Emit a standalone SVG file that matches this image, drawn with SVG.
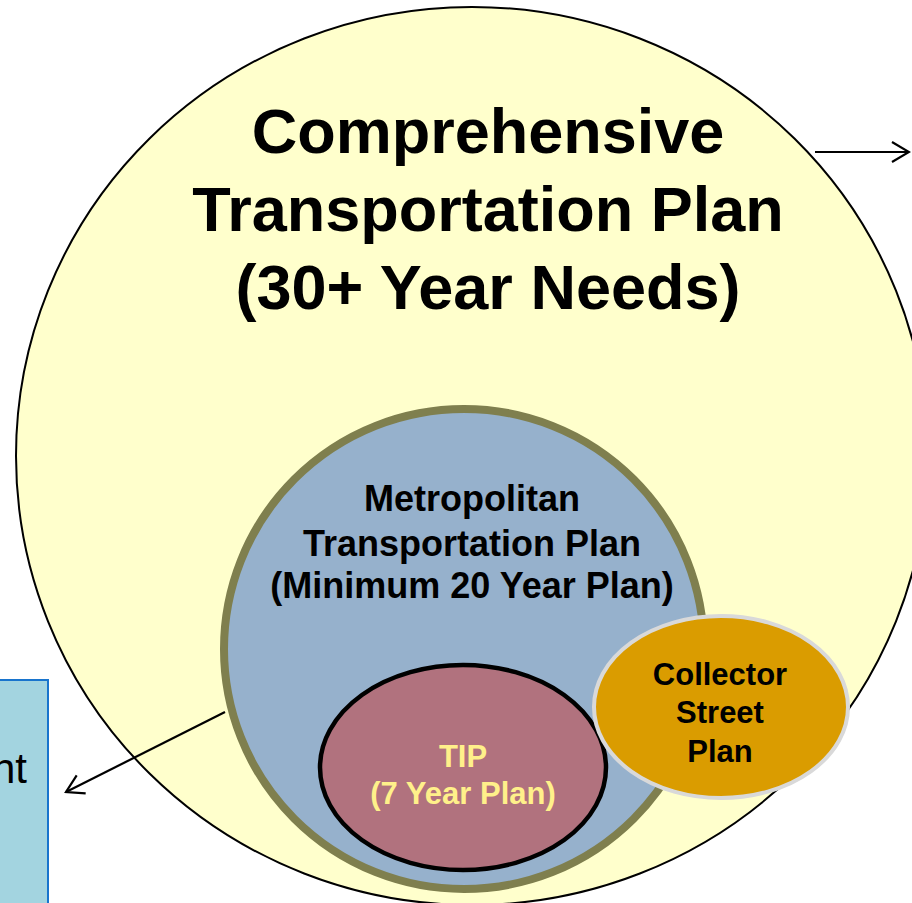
<svg xmlns="http://www.w3.org/2000/svg" width="912" height="903" viewBox="0 0 912 903">
<style>
.t{font-family:"Liberation Sans",Arial,sans-serif;font-weight:bold;text-anchor:middle;fill:#000}
.conn{fill:none;stroke:#000;stroke-width:2.2}
</style>
<defs>
<marker id="ah" markerUnits="userSpaceOnUse" viewBox="-20 -12 22 24" refX="0" refY="0" markerWidth="22" markerHeight="24" orient="auto">
<path d="M-17,-10 L0,0 L-17,10" fill="none" stroke="#000" stroke-width="2.2"/>
</marker>
</defs>
<rect width="912" height="903" fill="#fff"/>
<g id="box">
<rect x="-5" y="680" width="53" height="240" fill="#A3D4E0" stroke="#1874CD" stroke-width="2"/>
<text x="27" y="783" style="font-family:'Liberation Sans',Arial,sans-serif;font-size:42px;text-anchor:end;fill:#000">nt</text>
</g>
<g id="ctp">
<ellipse cx="472" cy="456" rx="456" ry="449" fill="#FFFFCC" stroke="#000" stroke-width="2"/>
<text class="t" x="488" y="153" font-size="63">Comprehensive</text>
<text class="t" x="488" y="231" font-size="63">Transportation Plan</text>
<text class="t" x="488" y="309" font-size="63">(30+ Year Needs)</text>
</g>
<g id="mtp">
<circle cx="464" cy="649" r="240" fill="#96B1CC" stroke="#7F7F4E" stroke-width="8"/>
<text class="t" x="472" y="511" font-size="36">Metropolitan</text>
<text class="t" x="472" y="556" font-size="36">Transportation Plan</text>
<text class="t" x="472" y="598" font-size="36">(Minimum 20 Year Plan)</text>
</g>
<g id="connectors">
<line class="conn" x1="815" y1="152" x2="909" y2="152" marker-end="url(#ah)"/>
<line class="conn" x1="225" y1="712" x2="66" y2="792" marker-end="url(#ah)"/>
</g>
<g id="tip">
<ellipse cx="463" cy="767.5" rx="143" ry="102.5" fill="#B1727E" stroke="#000" stroke-width="4.5"/>
<text class="t" x="463" y="767" font-size="31" fill="#FFF08A" style="fill:#FFF08A">TIP</text>
<text class="t" x="463" y="804" font-size="31" style="fill:#FFF08A">(7 Year Plan)</text>
</g>
<g id="collector">
<ellipse cx="721" cy="707" rx="127" ry="91" fill="#DA9C00" stroke="#D9D9D9" stroke-width="4"/>
<text class="t" x="720" y="685" font-size="31">Collector</text>
<text class="t" x="720" y="723" font-size="31">Street</text>
<text class="t" x="720" y="762" font-size="31">Plan</text>
</g>
</svg>
